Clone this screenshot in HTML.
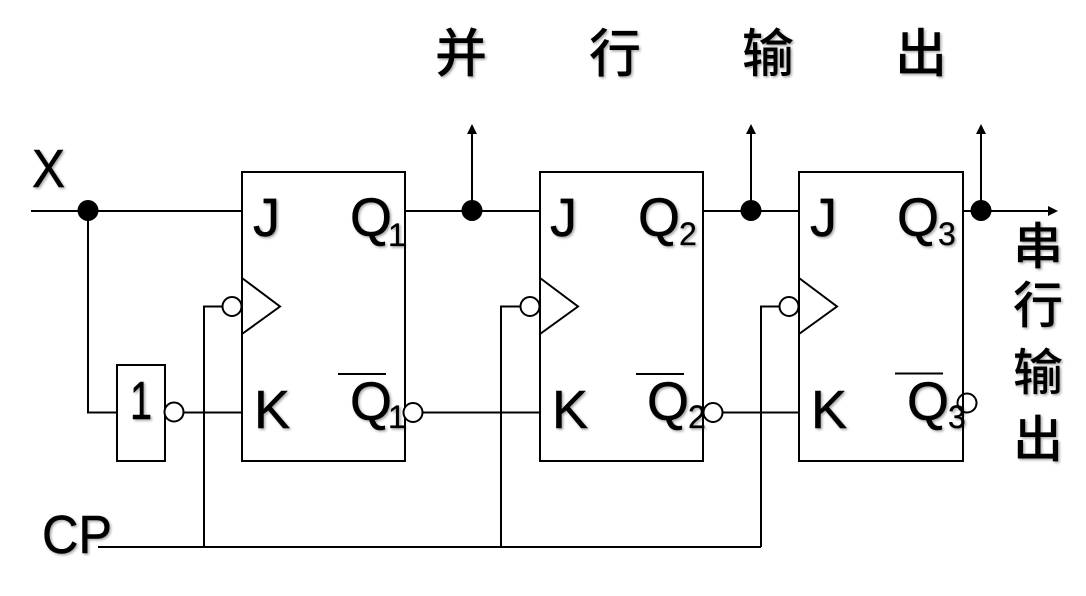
<!DOCTYPE html>
<html>
<head>
<meta charset="utf-8">
<style>
html,body{margin:0;padding:0;background:#fff;width:1086px;height:596px;overflow:hidden}
svg{display:block}
text{fill:#000;font-family:"Liberation Sans","Noto Sans CJK SC",sans-serif}
.m{font-size:54px;stroke:#000;stroke-width:.5px}
.s{font-size:32px;stroke:#000;stroke-width:.3px}
.c{font-size:52px;font-weight:500;text-anchor:middle;font-family:"Noto Sans CJK SC","WenQuanYi Zen Hei",sans-serif}
.v{font-size:50px}
.l{fill:none;stroke:#000;stroke-width:2}
.b{fill:#fff;stroke:#000;stroke-width:2}
</style>
</head>
<body>
<svg width="1086" height="596" viewBox="0 0 1086 596" xmlns="http://www.w3.org/2000/svg">
<defs>
<filter id="sh" x="-20%" y="-20%" width="140%" height="140%">
<feDropShadow dx="1.5" dy="1.5" stdDeviation="1.2" flood-color="#000" flood-opacity="0.35"/>
</filter>
</defs>

<!-- wires -->
<path class="l" d="M31 211H242M405 211H540M703 211H799M963 211H1050"/>
<path class="l" d="M88 211V412.500H117M183 412.500H242M422 412.500H540M722 412.500H799"/>
<path class="l" d="M98 547H761M204 547V306.500H223M501 547V306.500H521M761 547V306.500H780"/>
<path class="l" d="M472 211V132M751 211V132M981 211V132"/>

<!-- arrowheads -->
<path d="M472 124L467 134H477Z M751 124L746 134H756Z M981 124L976 134H986Z M1058 211L1048 206V216Z" fill="#000"/>

<!-- boxes -->
<rect class="l" x="242" y="172" width="163" height="289"/>
<rect class="l" x="540" y="172" width="163" height="289"/>
<rect class="l" x="799" y="172" width="164" height="289"/>
<rect class="l" x="117" y="365" width="48" height="96"/>

<!-- clock triangles -->
<path class="l" d="M242 278L280 306.500L242 334"/>
<path class="l" d="M540 278L578 306.500L540 334"/>
<path class="l" d="M799 278L837 306.500L799 334"/>

<!-- overbars -->
<path class="l" d="M338 374H386M636 374H684M895 373.500H943"/>

<!-- text -->
<g filter="url(#sh)">
<text class="m" x="32" y="187" textLength="33" lengthAdjust="spacingAndGlyphs">X</text>
<text class="m" x="42" y="553" textLength="70" lengthAdjust="spacingAndGlyphs">CP</text>
<text class="m" x="130" y="419" textLength="22" lengthAdjust="spacingAndGlyphs">1</text>

<text class="m" x="253" y="236">J</text>
<text class="m" x="254" y="428">K</text>
<text class="m" x="350" y="236">Q</text>
<text class="s" x="388" y="246">1</text>
<text class="m" x="350" y="420">Q</text>
<text class="s" x="388" y="428">1</text>

<text class="m" x="550" y="236">J</text>
<text class="m" x="552" y="428">K</text>
<text class="m" x="638" y="236">Q</text>
<text class="s" x="679" y="245">2</text>
<text class="m" x="647" y="420">Q</text>
<text class="s" x="688" y="428">2</text>

<text class="m" x="810" y="236">J</text>
<text class="m" x="811" y="428">K</text>
<text class="m" x="897" y="236">Q</text>
<text class="s" x="938" y="245">3</text>
<text class="m" x="907" y="420">Q</text>
<text class="s" x="948" y="428">3</text>

<text class="c" x="461" y="72">并</text>
<text class="c" x="615" y="72">行</text>
<text class="c" x="768" y="72">输</text>
<text class="c" x="921" y="72">出</text>

<text class="c v" x="1038" y="264">串</text>
<text class="c v" x="1038" y="323">行</text>
<text class="c v" x="1038" y="390">输</text>
<text class="c v" x="1038" y="457">出</text>
</g>

<!-- bubbles -->
<circle class="b" cx="174" cy="412" r="9.500"/>
<circle class="b" cx="232" cy="306.500" r="9.500"/>
<circle class="b" cx="530" cy="306.500" r="9.500"/>
<circle class="b" cx="789" cy="306.500" r="9.500"/>
<circle class="b" cx="413" cy="412.500" r="9.500"/>
<circle class="b" cx="713" cy="412.500" r="9.500"/>
<circle cx="967" cy="403" r="9.500" fill="none" stroke="#000" stroke-width="2"/>

<!-- junction dots -->
<circle cx="88" cy="210.500" r="10.500" fill="#000"/>
<circle cx="472" cy="210.500" r="10.500" fill="#000"/>
<circle cx="751" cy="210.500" r="10.500" fill="#000"/>
<circle cx="981" cy="210.500" r="10.500" fill="#000"/>
</svg>
</body>
</html>
